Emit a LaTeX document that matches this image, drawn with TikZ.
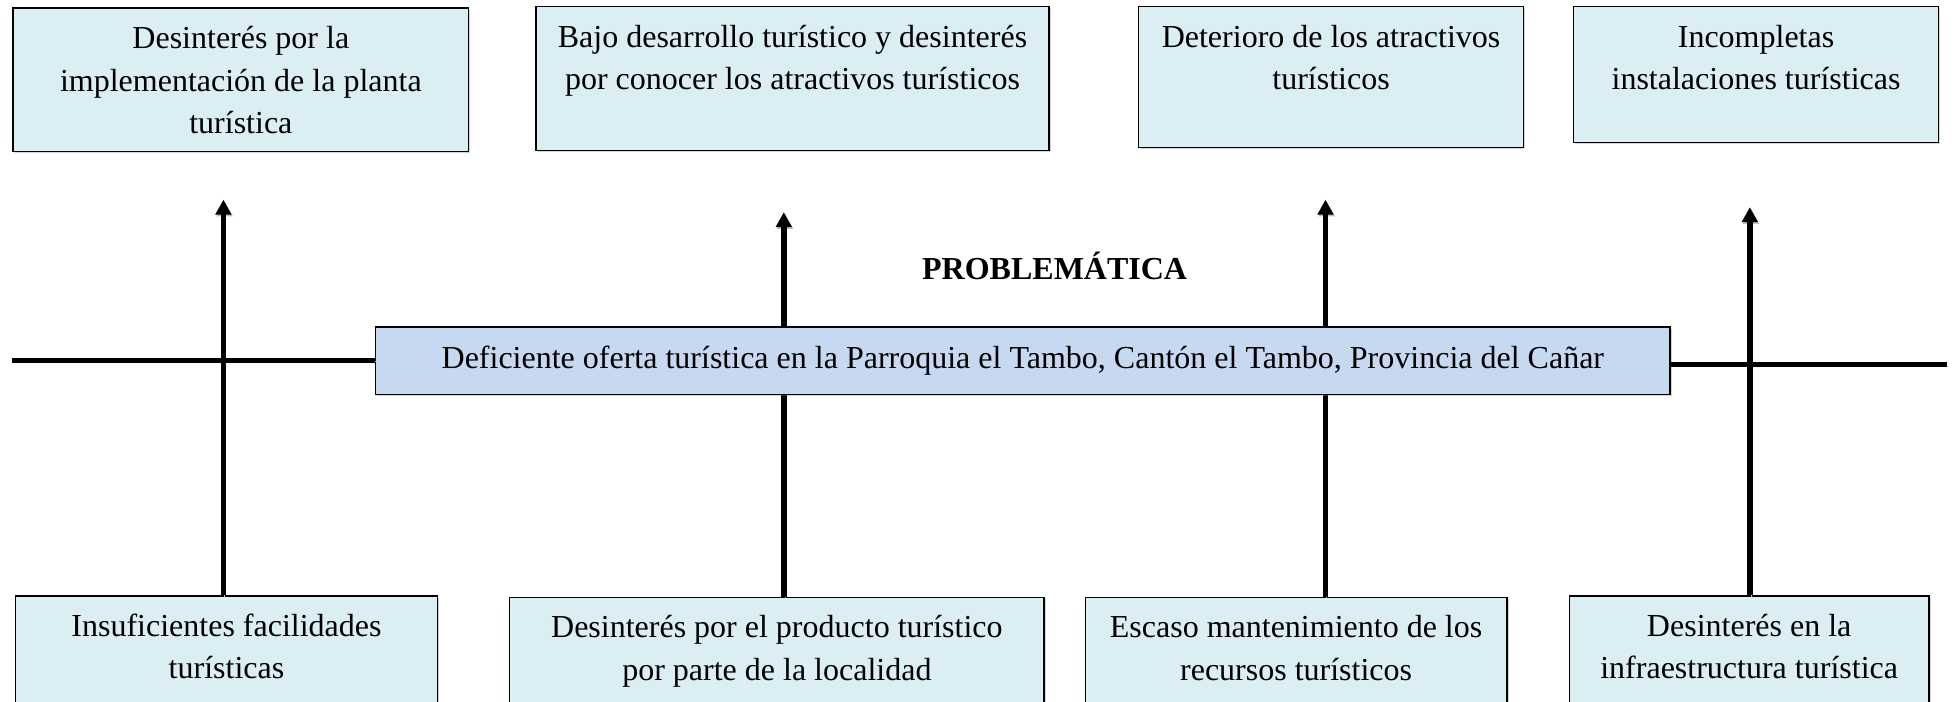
\documentclass[tikz,border=0pt]{standalone}
\usepackage{fontspec}
\setmainfont{Liberation Serif}
\usetikzlibrary{arrows.meta,shadows}
\definecolor{boxfill}{HTML}{DAEEF3}
\definecolor{midfill}{HTML}{C6D9F1}
\newlength\pxu
\setlength\pxu{0.624pt}
\newcommand\boxtext[3]{\parbox[c][#2\pxu][t]{#1\pxu}{\centering\rule{0pt}{20.3pt}#3}}
\tikzset{
  cbox/.style={draw=black, line width=0.6pt, fill=boxfill, inner sep=0pt, anchor=north west,
    drop shadow={shadow xshift=0.8pt, shadow yshift=-0.8pt, opacity=0.35},
    font=\fontsize{16}{21.2}\selectfont},
  midbox/.style={draw=black, line width=0.6pt, fill=midfill, inner sep=0pt,
    minimum width=647.1pt, minimum height=33.7pt,
    drop shadow={shadow xshift=0.8pt, shadow yshift=-0.8pt, opacity=0.35},
    font=\fontsize{16}{21.2}\selectfont},
  lshadow/.style={preaction={draw=black!25, transform canvas={xshift=0.6pt, yshift=-0.8pt}}},
  arr/.style={line width=2.8pt, lshadow, -{Triangle[length=7.5pt,width=7.7pt]}},
  spine/.style={line width=2.5pt, lshadow},
  ttl/.style={font=\fontsize{16}{18}\selectfont\bfseries}
}
\begin{document}
\begin{tikzpicture}[x=0.624pt, y=-0.624pt]
\useasboundingbox (0,0) rectangle (1568,562);
% top boxes
\node[cbox] (t1box) at (10,6) {\boxtext{365}{115}{Desinterés por la\\implementación de la planta\\turística}};
\node[cbox] (t2box) at (429,5) {\boxtext{411}{115}{Bajo desarrollo turístico y desinterés\\por conocer los atractivos turísticos}};
\node[cbox] (t3box) at (912,5) {\boxtext{308}{113}{Deterioro de los atractivos\\turísticos}};
\node[cbox] (t4box) at (1260,5) {\boxtext{293}{109}{Incompletas\\instalaciones turísticas}};
% bottom boxes
\node[cbox] (b1box) at (12,477) {\boxtext{338}{90}{Insuficientes facilidades\\turísticas}};
\node[cbox] (b2box) at (408,478) {\boxtext{428}{90}{Desinterés por el producto turístico\\por parte de la localidad}};
\node[cbox] (b3box) at (869,478) {\boxtext{338}{90}{Escaso mantenimiento de los\\recursos turísticos}};
\node[cbox] (b4box) at (1257,477) {\boxtext{288}{90}{Desinterés en la\\infraestructura turística}};
% arrow tips
\coordinate (tip1) at (179,160);
\coordinate (tip2) at (628,170);
\coordinate (tip3) at (1062,160);
\coordinate (tip4) at (1402,166);
\draw[arr] (b1box.north -| tip1) -- (tip1);
\draw[arr] (b2box.north -| tip2) -- (tip2);
\draw[arr] (b3box.north -| tip3) -- (tip3);
\draw[arr] (b4box.north -| tip4) -- (tip4);
% spine
\coordinate (sl) at (10,288.5);
\coordinate (sr) at (1560,292);
\node[midbox] (mid) at (819.5,289) {Deficiente oferta turística en la Parroquia el Tambo, Cantón el Tambo, Provincia del Cañar};
\draw[spine] (sl) -- (mid.west |- sl);
\draw[spine] (mid.east |- sr) -- (sr);
\node[ttl] (title) at (845,213) {PROBLEMÁTICA};
\end{tikzpicture}
\end{document}
